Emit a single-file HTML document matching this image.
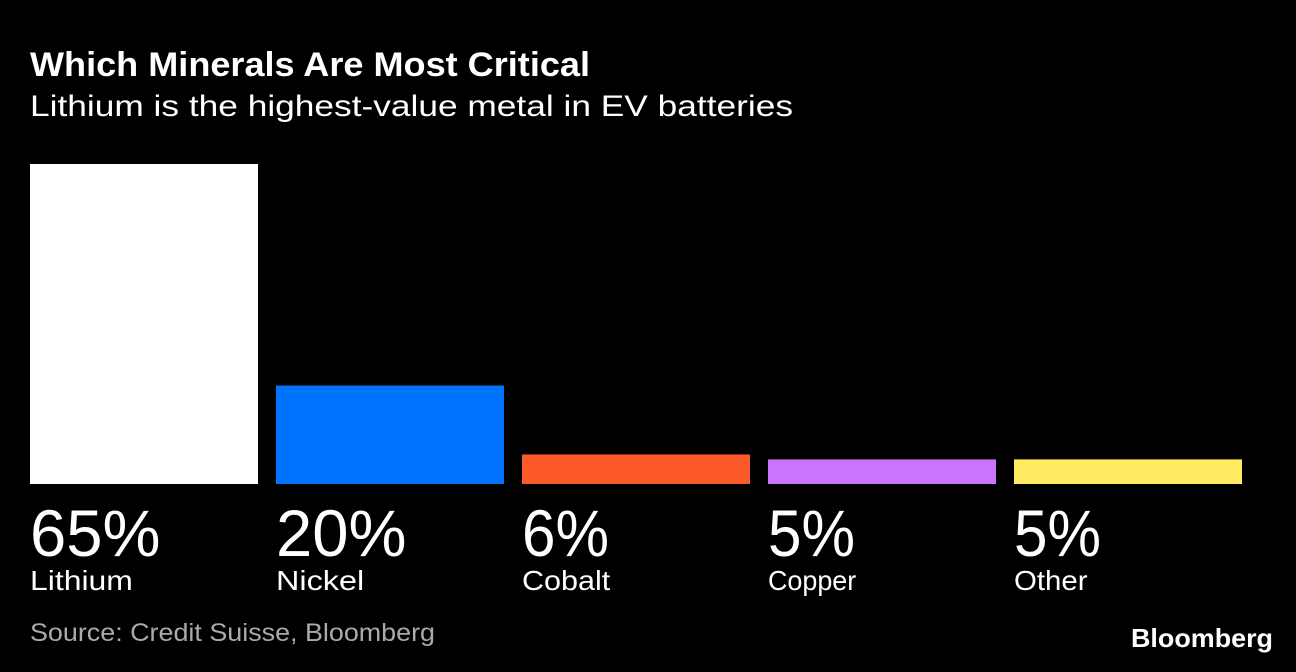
<!DOCTYPE html>
<html><head><meta charset="utf-8"><style>
html,body{margin:0;padding:0;background:#000;}
svg{display:block;font-family:"Liberation Sans",sans-serif;}
</style></head><body>
<svg id="chart" width="1296" height="672" viewBox="0 0 1296 672">
<rect width="1296" height="672" fill="#000"/>
<text x="30" y="76" fill="#fff" font-weight="bold" font-size="34" textLength="560" lengthAdjust="spacingAndGlyphs">Which Minerals Are Most Critical</text>
<text x="30" y="116" fill="#fff" font-size="30" textLength="763" lengthAdjust="spacingAndGlyphs">Lithium is the highest-value metal in EV batteries</text>
<g id="bars"></g>
<text x="30" y="641" fill="#aaa" font-size="25" textLength="405" lengthAdjust="spacingAndGlyphs">Source: Credit Suisse, Bloomberg</text>
<text x="1131" y="647" fill="#fff" font-weight="bold" font-size="26" textLength="142" lengthAdjust="spacingAndGlyphs">Bloomberg</text>
</svg>
<script>
const categories = ["Lithium","Nickel","Cobalt","Copper","Other"];
const values = [65,20,6,5,5];
const valueLabels = ["65%","20%","6%","5%","5%"];
const colors = ["#ffffff","#0073ff","#fd5a2a","#c973ff","#ffea61"];
const ns="http://www.w3.org/2000/svg";
const g=document.getElementById('bars');
const baseY=484, pxPer=320/65, x0=30, step=246, bw=228;
function y(v){return baseY - v*pxPer;}
categories.forEach((c,i)=>{
  const x=x0+i*step;
  const r=document.createElementNS(ns,'rect');
  r.setAttribute('x',x);r.setAttribute('y',y(values[i]));
  r.setAttribute('width',bw);r.setAttribute('height',baseY-y(values[i]));
  r.setAttribute('fill',colors[i]);
  
  
  g.appendChild(r);
  const t=document.createElementNS(ns,'text');
  t.setAttribute('x',x);t.setAttribute('y',556);
  t.setAttribute('fill','#fff');t.setAttribute('font-size','66');
  t.setAttribute('textLength',valueLabels[i].length*43.5);
  t.setAttribute('lengthAdjust','spacingAndGlyphs');
  t.textContent=valueLabels[i];
  
  
  g.appendChild(t);
  const l=document.createElementNS(ns,'text');
  l.setAttribute('x',x);l.setAttribute('y',590);
  l.setAttribute('fill','#fff');l.setAttribute('font-size','28');
  l.setAttribute('textLength',c.length*14.7);
  l.setAttribute('lengthAdjust','spacingAndGlyphs');
  l.textContent=c;
  
  
  g.appendChild(l);
});
</script>
</body></html>
